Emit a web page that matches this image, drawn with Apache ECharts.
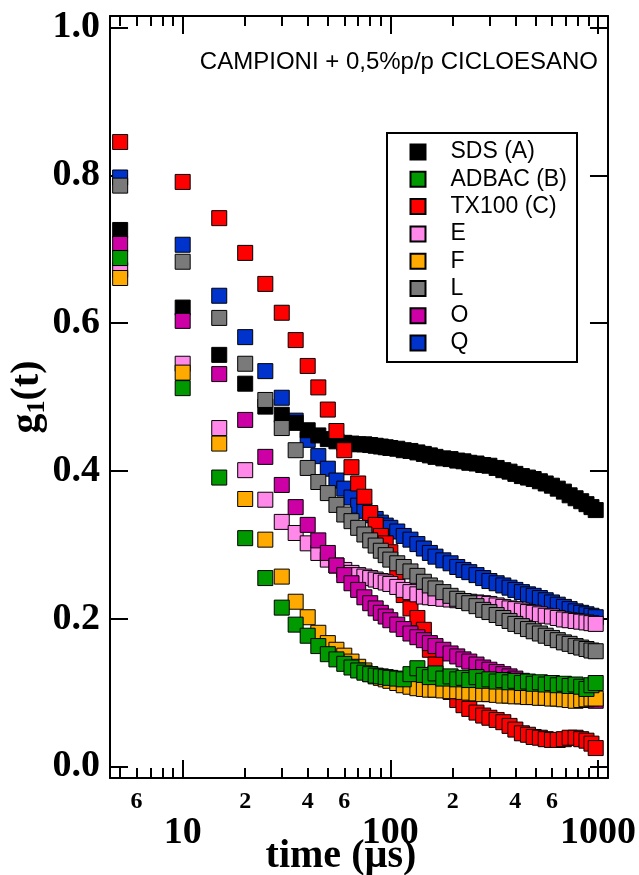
<!DOCTYPE html>
<html><head><meta charset="utf-8">
<script src="https://cdn.jsdelivr.net/npm/echarts@6/dist/echarts.min.js"></script>
<style>html,body{margin:0;padding:0;background:#fff}#c{width:639px;height:875px}</style>
</head><body><div id="c"></div>
<script>
// ---------------- data ----------------
const times = [
  5,10,15,20,25,30,35,40,45,50,
  55,60,65,70,75,80,85,90,95,100,
  108,116,125,135,145,155,165,180,195,210,
  225,240,260,280,300,325,350,375,400,430,
  460,490,525,560,600,640,685,730,780,830,
  880,930,975];

const sdsA = [
  0.726,0.621,0.557,0.518,0.487,0.476,0.465,0.455,0.448,0.443,
  0.440,0.438,0.437,0.436,0.436,0.435,0.434,0.433,0.432,0.431,
  0.430,0.428,0.427,0.425,0.423,0.421,0.419,0.417,0.416,0.414,
  0.413,0.411,0.410,0.408,0.407,0.404,0.401,0.399,0.396,0.393,
  0.391,0.389,0.386,0.383,0.380,0.376,0.372,0.367,0.363,0.359,
  0.355,0.351,0.347];

const adbacB = [
  0.688,0.512,0.391,0.309,0.255,0.215,0.192,0.177,0.163,0.152,
  0.145,0.139,0.134,0.130,0.127,0.125,0.123,0.122,0.121,0.120,
  0.119,0.118,0.125,0.133,0.124,0.121,0.126,0.119,0.122,0.118,
  0.120,0.117,0.121,0.116,0.118,0.115,0.117,0.114,0.116,0.113,
  0.115,0.112,0.114,0.111,0.113,0.110,0.112,0.109,0.111,0.108,
  0.105,0.110,0.113];

const tx100C = [
  0.845,0.791,0.742,0.695,0.653,0.614,0.577,0.542,0.513,0.483,
  0.454,0.428,0.405,0.383,0.365,0.343,0.327,0.312,0.302,0.290,
  0.259,0.232,0.214,0.201,0.185,0.158,0.138,0.117,0.101,0.090,
  0.083,0.078,0.073,0.069,0.066,0.063,0.060,0.055,0.050,0.045,
  0.043,0.040,0.039,0.037,0.036,0.036,0.037,0.039,0.039,0.037,
  0.035,0.031,0.025];

const sampleE = [
  0.672,0.545,0.458,0.401,0.361,0.331,0.316,0.302,0.289,0.280,
  0.272,0.266,0.262,0.259,0.257,0.255,0.253,0.251,0.249,0.247,
  0.243,0.239,0.236,0.233,0.230,0.229,0.228,0.227,0.226,0.225,
  0.224,0.223,0.222,0.221,0.220,0.218,0.216,0.214,0.213,0.211,
  0.209,0.208,0.206,0.204,0.203,0.201,0.199,0.198,0.197,0.196,
  0.195,0.194,0.193];

const sampleF = [
  0.661,0.533,0.437,0.362,0.307,0.257,0.223,0.202,0.181,0.167,
  0.158,0.150,0.142,0.135,0.130,0.125,0.122,0.120,0.118,0.116,
  0.113,0.110,0.108,0.106,0.105,0.104,0.104,0.103,0.102,0.102,
  0.101,0.100,0.099,0.098,0.098,0.097,0.096,0.096,0.095,0.095,
  0.094,0.094,0.093,0.093,0.092,0.092,0.091,0.090,0.089,0.090,
  0.091,0.092,0.092];

const sampleL = [
  0.786,0.683,0.607,0.545,0.496,0.458,0.428,0.404,0.385,0.370,
  0.354,0.341,0.332,0.323,0.314,0.306,0.299,0.292,0.286,0.280,
  0.275,0.270,0.264,0.258,0.250,0.245,0.241,0.236,0.231,0.227,
  0.224,0.221,0.217,0.212,0.209,0.205,0.201,0.197,0.193,0.190,
  0.186,0.183,0.180,0.177,0.174,0.171,0.168,0.166,0.163,0.161,
  0.159,0.157,0.156];

const sampleO = [
  0.707,0.603,0.531,0.469,0.419,0.381,0.351,0.327,0.306,0.289,
  0.272,0.259,0.248,0.239,0.229,0.221,0.214,0.208,0.203,0.198,
  0.192,0.186,0.180,0.175,0.171,0.167,0.163,0.158,0.153,0.149,
  0.145,0.142,0.138,0.134,0.131,0.128,0.125,0.122,0.119,0.116,
  0.113,0.110,0.107,0.105,0.103,0.101,0.099,0.097,0.095,0.093,
  0.092,0.090,0.089];

const sampleQ = [
  0.797,0.706,0.637,0.581,0.535,0.499,0.468,0.442,0.420,0.403,
  0.387,0.376,0.364,0.353,0.346,0.340,0.335,0.330,0.326,0.323,
  0.318,0.312,0.307,0.301,0.295,0.289,0.284,0.279,0.275,0.270,
  0.266,0.263,0.259,0.255,0.251,0.248,0.245,0.242,0.239,0.236,
  0.233,0.231,0.228,0.225,0.222,0.219,0.216,0.213,0.210,0.208,
  0.206,0.204,0.202];

const legendNames = ['SDS (A)','ADBAC (B)','TX100 (C)','E','F','L','O','Q'];
const majorTickValues = [10,100,1000];
const minorTickValues = [5,6,7,8,9,20,30,40,50,60,70,80,90,200,300,400,500,600,700,800,900];
const minorLabelValues = [6,20,40,60,200,400,600];
const yTickValues = [0,0.2,0.4,0.6,0.8,1.0];
const annotation = 'CAMPIONI + 0,5%p/p CICLOESANO';
const xTitle = 'time (\u00b5s)';

// ---------------- styling ----------------
const colors = {
  'SDS (A)':'#000000','ADBAC (B)':'#009900','TX100 (C)':'#ff0000','E':'#ff88e8',
  'F':'#ffaa00','L':'#7a7a7a','O':'#cc00a4','Q':'#0033cc'
};
const seriesValues = {
  'SDS (A)':sdsA,'ADBAC (B)':adbacB,'TX100 (C)':tx100C,'E':sampleE,
  'F':sampleF,'L':sampleL,'O':sampleO,'Q':sampleQ
};
// drawing order (bottom -> top)
const drawOrder = ['Q','SDS (A)','TX100 (C)','E','O','F','L','ADBAC (B)'];

const serif = 'Liberation Serif';
const sans = 'Liberation Sans';
const xMin = 4.467, xMax = 1117;
const yMin = -0.0155, yMax = 1.0155;
const lg = Math.log10;

const chart = echarts.init(document.getElementById('c'), null, {renderer:'canvas'});

const lineSt = {color:'#000', width:2};
function tickAxis(position, ticks, len, showLine, labels, labelOpts) {
  return {
    type:'value', position:position, min:lg(xMin), max:lg(xMax),
    axisLine:{show:showLine, onZero:false, lineStyle:lineSt},
    axisTick:{show:true, inside:true, length:len, lineStyle:lineSt, customValues:ticks.map(lg)},
    axisLabel: labels ? Object.assign({show:true, customValues:labels.map(lg),
      fontFamily:serif, fontWeight:'bold', color:'#000'}, labelOpts) : {show:false},
    splitLine:{show:false}
  };
}

const option = {
  animation:false,
  backgroundColor:'#fff',
  grid:{left:110, right:31, top:16, bottom:97, containLabel:false},
  xAxis:[
    {type:'log', logBase:10, min:xMin, max:xMax, show:false, axisLine:{onZero:false}},
    tickAxis('bottom', majorTickValues, 18, true, majorTickValues,
      {fontSize:38, margin:36, formatter:v=>String(Math.round(Math.pow(10,v)))}),
    tickAxis('bottom', minorTickValues, 10, false, minorLabelValues,
      {fontSize:24, margin:12, formatter:v=>String(Math.round(Math.pow(10,v))).charAt(0)}),
    tickAxis('top', majorTickValues, 18, true, null),
    tickAxis('top', minorTickValues, 10, false, null)
  ],
  yAxis:[
    {type:'value', position:'left', min:yMin, max:yMax,
     axisLine:{show:true, onZero:false, lineStyle:lineSt},
     axisTick:{show:true, inside:true, length:18, lineStyle:lineSt, customValues:yTickValues},
     axisLabel:{show:true, customValues:yTickValues, formatter:v=>v.toFixed(1), margin:10,
       fontFamily:serif, fontWeight:'bold', fontSize:38, color:'#000'},
     splitLine:{show:false}},
    {type:'value', position:'right', min:yMin, max:yMax,
     axisLine:{show:true, onZero:false, lineStyle:lineSt},
     axisTick:{show:true, inside:true, length:18, lineStyle:lineSt, customValues:yTickValues},
     axisLabel:{show:false}, splitLine:{show:false}}
  ],
  legend:{
    data:legendNames, orient:'vertical', left:409.5, top:140.5, padding:0,
    itemWidth:15, itemHeight:15, itemGap:4.3, icon:'rect',
    formatter:n=>'{g|}'+n,
    textStyle:{fontFamily:sans, fontSize:23, color:'#000', rich:{g:{width:20}}},
    selectedMode:false
  },
  graphic:[
    {type:'rect', shape:{x:387, y:133, width:190, height:229},
     style:{fill:'none', stroke:'#000', lineWidth:2}, z:1},
    {type:'text', x:598, y:62,
     style:{text:annotation, font:'24px "'+sans+'"', fill:'#000', align:'right', verticalAlign:'middle'}},
    {type:'text', x:341, y:857,
     style:{text:xTitle, font:'bold 40px "'+serif+'"', fill:'#000', align:'center', verticalAlign:'middle'}},
    {type:'text', x:28, y:397, rotation:Math.PI/2,
     style:{text:'{a|g}{b|1}{a|(t)}', align:'center', verticalAlign:'middle', fill:'#000',
       rich:{a:{fontFamily:serif, fontWeight:'bold', fontSize:40, lineHeight:44, fill:'#000'},
             b:{fontFamily:serif, fontWeight:'bold', fontSize:26, lineHeight:26, verticalAlign:'bottom', fill:'#000'}}}}
  ],
  series: drawOrder.map(name => ({
    name:name, type:'scatter', xAxisIndex:0, yAxisIndex:0,
    symbol:'rect', symbolSize:15,
    itemStyle:{color:colors[name], borderColor:'#000', borderWidth:1, opacity:1},
    emphasis:{disabled:true},
    data: times.map((t,i)=>[t, seriesValues[name][i]])
  }))
};
chart.setOption(option);
</script>
</body></html>
